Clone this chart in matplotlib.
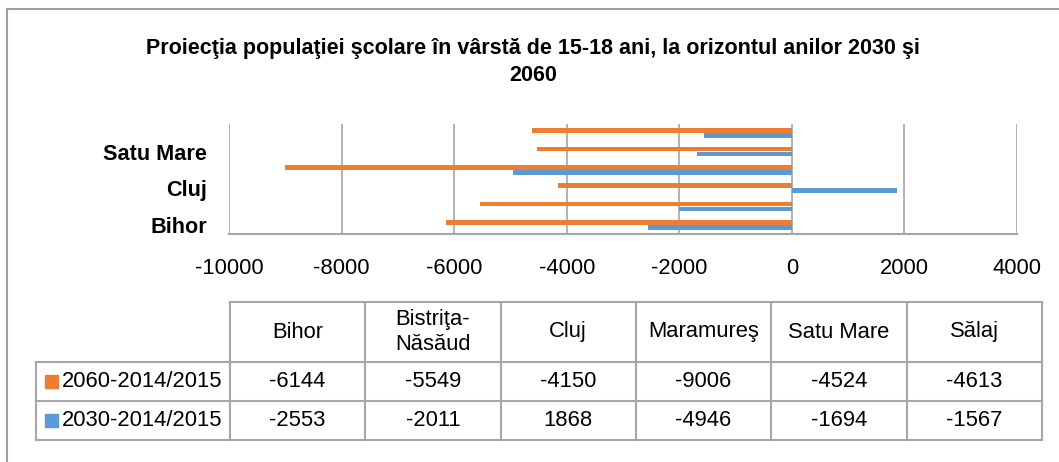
import numpy as np
import matplotlib.pyplot as plt
from matplotlib.lines import Line2D
from matplotlib.patches import Rectangle

plt.rcParams['font.family'] = ['Liberation Sans', 'DejaVu Sans']
plt.rcParams['axes.unicode_minus'] = False

# date
judete = ['Bihor', 'Bistriţa-Năsăud', 'Cluj', 'Maramureş', 'Satu Mare', 'Sălaj']
antet = ['Bihor', 'Bistriţa-\nNăsăud', 'Cluj', 'Maramureş', 'Satu Mare', 'Sălaj']
v2060 = [-6144, -5549, -4150, -9006, -4524, -4613]
v2030 = [-2553, -2011, 1868, -4946, -1694, -1567]
serii = ['2060-2014/2015', '2030-2014/2015']
culori = ['#ED7D31', '#5B9BD5']
xticks = [-10000, -8000, -6000, -4000, -2000, 0, 2000, 4000]
titlu = 'Proiecţia populaţiei şcolare în vârstă de 15-18 ani, la orizontul anilor 2030 şi\n2060'

W, H = 1059, 462
gri = '#a6a6a6'
fs = 15.8  # text normal

def fx(x):
    return x / W

def fy(y):
    return 1 - y / H

fig = plt.figure(figsize=(W / 100, H / 100), dpi=100)

# chenar (doar stanga si sus se vad)
fig.add_artist(Line2D([fx(7), fx(7)], [fy(9), 0], color='#a0a0a0', lw=1.5))
fig.add_artist(Line2D([fx(7), 1], [fy(9), fy(9)], color='#a0a0a0', lw=1.5))

fig.text(fx(533), fy(62), titlu, ha='center', va='center', fontweight='bold',
         fontsize=15.5, linespacing=1.39)

# grafic bare
ax = fig.add_axes([fx(229), fy(234), (1017 - 229) / W, 110 / H])
y = np.arange(len(judete))
ax.barh(y + 0.14, v2060, height=0.26, color=culori[0], zorder=3)
ax.barh(y - 0.14, v2030, height=0.26, color=culori[1], zorder=3)
ax.set_xlim(-10000, 4000)
ax.set_ylim(-0.5, len(judete) - 0.5)
ax.set_xticks(xticks)
ax.set_yticks(y[::2])
ax.set_yticklabels(judete[::2], fontweight='bold', fontsize=15.6)
ax.tick_params(axis='x', length=0, labelsize=fs, pad=17.5)
ax.tick_params(axis='y', length=0, pad=16)
ax.grid(axis='x', color=gri, lw=1.2, zorder=0)
for s in ['top', 'right', 'left']:
    ax.spines[s].set_visible(False)
ax.spines['bottom'].set_color(gri)
ax.spines['bottom'].set_linewidth(1.5)

# tabel de date
x0, cw = 230, 135.3
xl = 36
rows = [302, 362, 401, 440]
xr = x0 + cw * len(judete)
fig.add_artist(Line2D([fx(x0), fx(xr)], [fy(rows[0])] * 2, color=gri, lw=1.5))
for r in rows[1:]:
    fig.add_artist(Line2D([fx(xl), fx(xr)], [fy(r)] * 2, color=gri, lw=1.5))
fig.add_artist(Line2D([fx(xl)] * 2, [fy(rows[1]), fy(rows[3])], color=gri, lw=1.5))
for i in range(len(judete) + 1):
    xc = x0 + cw * i
    fig.add_artist(Line2D([fx(xc)] * 2, [fy(rows[0]), fy(rows[3])], color=gri, lw=1.5))

for i, nume in enumerate(antet):
    fig.text(fx(x0 + cw * (i + 0.5)), fy((rows[0] + rows[1]) / 2), nume,
             ha='center', va='center', fontsize=fs, linespacing=1.27)

for k, (vals, eticheta, c) in enumerate(zip([v2060, v2030], serii, culori)):
    yc = (rows[k + 1] + rows[k + 2]) / 2
    fig.add_artist(Rectangle((fx(45), fy(yc + 6.5)), 13 / W, 13 / H, color=c,
                             transform=fig.transFigure))
    fig.text(fx(62), fy(yc), eticheta, ha='left', va='center', fontsize=fs)
    for i, v in enumerate(vals):
        fig.text(fx(x0 + cw * (i + 0.5)), fy(yc), str(v), ha='center',
                 va='center', fontsize=fs)

fig.savefig('out.png', dpi=100)
